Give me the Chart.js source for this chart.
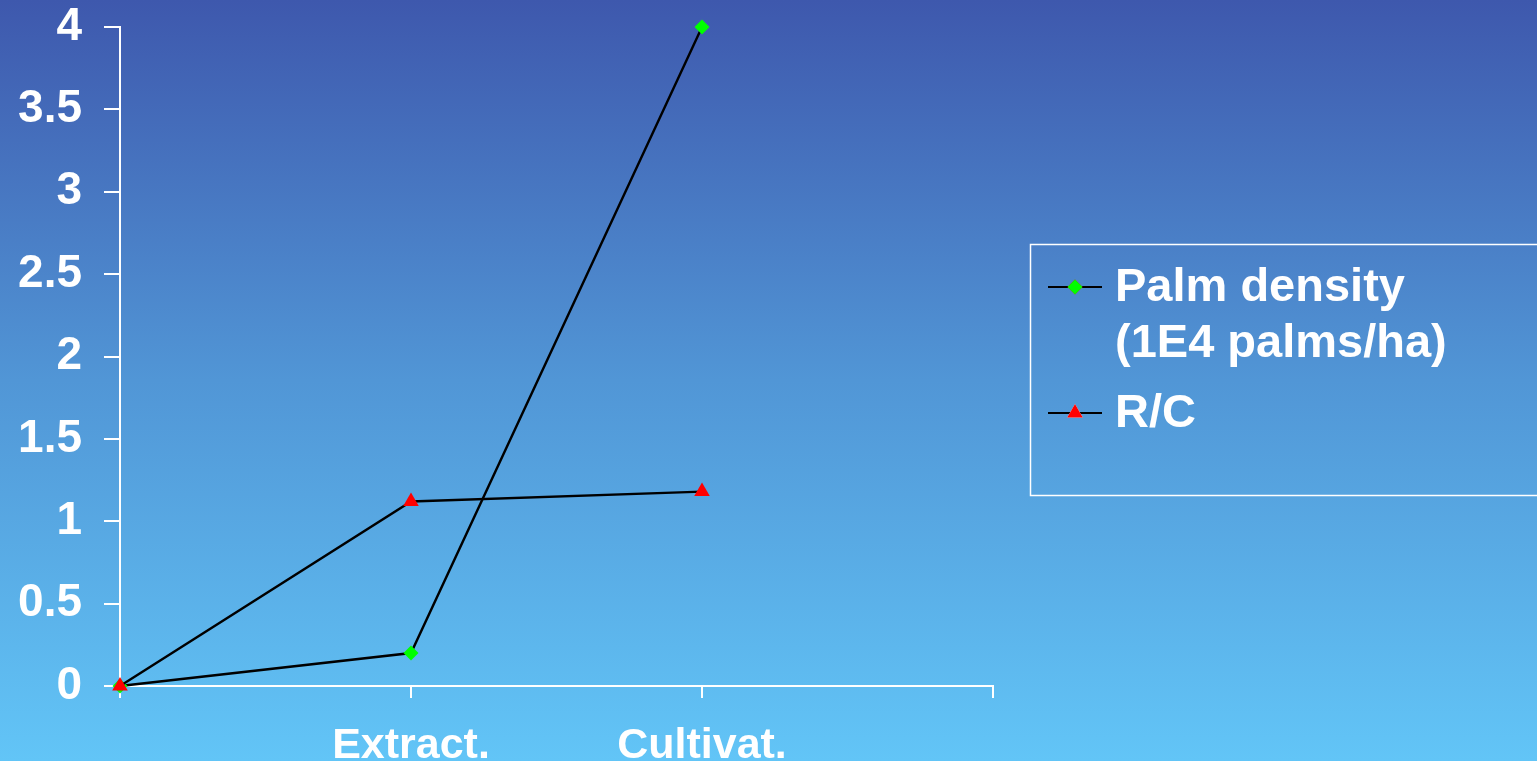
<!DOCTYPE html>
<html>
<head>
<meta charset="utf-8">
<script src="https://cdn.jsdelivr.net/npm/chart.js@4.4.1/dist/chart.umd.min.js"></script>
<style>
  html, body { margin: 0; padding: 0; overflow: hidden; background: #4f8fd6; }
  #wrap { width: 1537px; height: 761px; position: relative; }
</style>
</head>
<body>
<div id="wrap"><canvas id="c" width="1537" height="761"></canvas></div>
<script>
// Categories along the bottom axis (first and last slots carry no label)
const categories = ['', 'Extract.', 'Cultivat.', ''];
// Series values
const palmDensity = [0, 0.2, 4];
const rcRatio = [0, 1.12, 1.18];
// Legend texts (multi-line where needed)
const palmLabel = ['Palm density', '(1E4 palms/ha)'];
const rcLabel = ['R/C'];
// Value axis range and step
const yMin = 0, yMax = 4, yStep = 0.5;

const FONT = '"Liberation Sans", Arial, sans-serif';

// Slide-style vertical gradient behind everything
const backdrop = {
  id: 'backdrop',
  beforeDraw(chart) {
    const { ctx, width, height } = chart;
    const g = ctx.createLinearGradient(0, 0, 0, height);
    g.addColorStop(0, '#3e58ad');
    g.addColorStop(0.5, '#5196d6');
    g.addColorStop(1, '#62c5f7');
    ctx.save();
    ctx.fillStyle = g;
    ctx.fillRect(0, 0, width, height);
    ctx.restore();
  }
};

// Boxed legend on the right with line + marker samples
const boxLegend = {
  id: 'boxLegend',
  afterDraw(chart) {
    const { ctx } = chart;
    ctx.save();
    ctx.strokeStyle = '#ffffff';
    ctx.lineWidth = 1.5;
    ctx.strokeRect(1030.5, 244.5, 520, 251);

    const rows = [
      { ds: chart.data.datasets[0], lines: palmLabel, sampleY: 287, baseY: 301 },
      { ds: chart.data.datasets[1], lines: rcLabel, sampleY: 413, baseY: 427 }
    ];
    rows.forEach(r => {
      ctx.strokeStyle = '#000000';
      ctx.lineWidth = 2;
      ctx.beginPath();
      ctx.moveTo(1048, r.sampleY);
      ctx.lineTo(1102, r.sampleY);
      ctx.stroke();
      Chart.helpers.drawPoint(ctx, {
        pointStyle: r.ds.pointStyle,
        radius: r.ds.pointRadius,
        rotation: 0,
        borderWidth: 0
      }, 1075, r.sampleY);
      ctx.fillStyle = r.ds.pointBackgroundColor;
      ctx.fill();

      ctx.fillStyle = '#ffffff';
      ctx.font = 'bold 47px ' + FONT;
      ctx.textAlign = 'left';
      ctx.textBaseline = 'alphabetic';
      r.lines.forEach((t, i) => ctx.fillText(t, 1115, r.baseY + i * 56));
    });
    ctx.restore();
  }
};

new Chart(document.getElementById('c'), {
  type: 'line',
  data: {
    labels: categories,
    datasets: [
      {
        label: palmLabel.join(' '),
        data: palmDensity,
        order: 1,
        borderColor: '#000000',
        borderWidth: 2.4,
        pointStyle: 'rectRot',
        pointRadius: 7.5,
        pointBackgroundColor: '#00ff00',
        pointBorderColor: '#00ff00',
        pointBorderWidth: 0,
        tension: 0,
        clip: false
      },
      {
        label: rcLabel.join(' '),
        data: rcRatio,
        order: 0,
        borderColor: '#000000',
        borderWidth: 2.4,
        pointStyle: 'triangle',
        pointRadius: 9,
        pointBackgroundColor: '#ff0000',
        pointBorderColor: '#ff0000',
        pointBorderWidth: 0,
        tension: 0,
        clip: false
      }
    ]
  },
  options: {
    responsive: false,
    animation: false,
    events: [],
    layout: { padding: { left: 0, top: 27, right: 544, bottom: 0 } },
    plugins: {
      legend: { display: false },
      tooltip: { enabled: false }
    },
    scales: {
      x: {
        type: 'category',
        offset: false,
        grid: { drawOnChartArea: false, drawTicks: true, tickLength: 12, color: '#ffffff', lineWidth: 2 },
        border: { color: '#ffffff', width: 2 },
        ticks: {
          color: '#ffffff',
          font: { family: FONT, size: 43, weight: 'bold' },
          padding: 22,
          maxRotation: 0,
          autoSkip: false
        },
        afterFit(scale) { scale.height = 75; }
      },
      y: {
        min: yMin,
        max: yMax,
        grid: { drawOnChartArea: false, drawTicks: true, tickLength: 16, color: '#ffffff', lineWidth: 2 },
        border: { color: '#ffffff', width: 2 },
        ticks: {
          stepSize: yStep,
          color: '#ffffff',
          font: { family: FONT, size: 46, weight: 'bold' },
          padding: 22,
          callback: v => String(v)
        },
        afterFit(scale) {
          scale.width = 120;
          scale.paddingTop = 0;
          scale.paddingBottom = 0;
        }
      }
    }
  },
  plugins: [backdrop, boxLegend]
});
</script>
</body>
</html>
